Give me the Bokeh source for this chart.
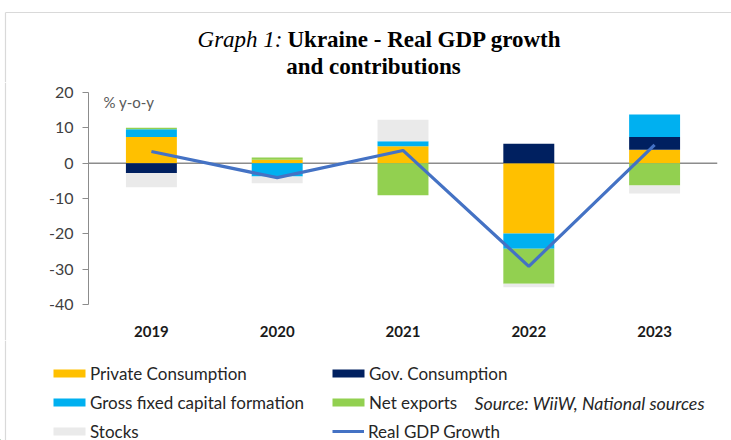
from bokeh.plotting import figure
from bokeh.layouts import column, row
from bokeh.models import (FactorRange, Range1d, FixedTicker, Span, Label, Legend,
                          LegendItem, ColumnDataSource)
from bokeh.embed import file_html
from bokeh.resources import INLINE

years = ["2019", "2020", "2021", "2022", "2023"]
private_cons = [7.4, 1.0, 4.8, -19.9, 3.8]
gov_cons = [-2.8, 0.0, 0.0, 5.5, 3.6]
gfcf = [2.2, -3.8, 1.4, -4.3, 6.4]
net_exports = [0.4, 0.6, -9.1, -9.9, -6.3]
stocks = [-4.0, -1.9, 6.1, -1.0, -2.3]
gdp_growth = [3.3, -4.1, 3.6, -29.2, 5.2]
y_ticks = [-40, -30, -20, -10, 0, 10, 20]
y_tick_labels = ["-40", "-30", "-20", "-10", "0", "10", "20"]

series_names = ["Private Consumption", "Gov. Consumption", "Gross fixed capital formation",
                "Net exports", "Stocks"]
series_vals = [private_cons, gov_cons, gfcf, net_exports, stocks]
series_colors = ["#FFC000", "#002060", "#00B0F0", "#92D050", "#EAEAEA"]
line_color = "#4472C4"
border_color = "#D9D9D9"

W = 731


def blank(width, height):
    f = figure(width=width, height=height, x_range=Range1d(0, width),
               y_range=Range1d(0, height), min_border=0, toolbar_location=None,
               output_backend="svg", x_axis_location=None, y_axis_location=None,
               frame_align=False)
    f.xgrid.grid_line_color = None
    f.ygrid.grid_line_color = None
    f.outline_line_color = None
    return f


# ---------------- title strip ----------------
ft = blank(W, 82)
ft.segment(x0=[5], y0=[70], x1=[W], y1=[70], line_color=border_color, line_width=1.2)
ft.segment(x0=[5], y0=[70], x1=[5], y1=[0], line_color=border_color, line_width=1.2)
ft.add_layout(Label(x=282, y=43.5, text="Graph 1:", text_font="Liberation Serif",
                    text_font_style="italic", text_font_size="23px", text_align="right",
                    text_baseline="middle", text_color="#000000"))
ft.add_layout(Label(x=287, y=43.5, text="Ukraine - Real GDP growth",
                    text_font="Liberation Serif", text_font_style="bold",
                    text_font_size="23px", text_align="left", text_baseline="middle",
                    text_color="#000000"))
ft.add_layout(Label(x=373, y=16, text="and contributions",
                    text_font="Liberation Serif", text_font_style="bold",
                    text_font_size="23px", text_align="center", text_baseline="middle",
                    text_color="#000000"))

# ---------------- left border strip next to chart ----------------
fs = blank(8, 258)
fs.segment(x0=[5], y0=[0], x1=[5], y1=[258], line_color=border_color, line_width=1.2)

# ---------------- main chart ----------------
p = figure(x_range=FactorRange(*years), y_range=Range1d(-40, 20),
           width=W - 8, height=258, output_backend="svg", toolbar_location=None,
           min_border_left=80, min_border_right=14, min_border_top=10,
           min_border_bottom=36, frame_align=False)
p.outline_line_color = None
p.xgrid.grid_line_color = None
p.ygrid.grid_line_color = None

p.add_layout(Span(location=0, dimension="width", line_color="#8C8C8C", line_width=1.5,
                  level="underlay"))

pos = [0.0] * len(years)
neg = [0.0] * len(years)
for name, vals, col in zip(series_names, series_vals, series_colors):
    bottoms, tops = [], []
    for i, v in enumerate(vals):
        if v >= 0:
            bottoms.append(pos[i]); pos[i] += v; tops.append(pos[i])
        else:
            bottoms.append(neg[i]); neg[i] += v; tops.append(neg[i])
    src = ColumnDataSource(dict(x=years, top=tops, bottom=bottoms))
    p.vbar(x="x", top="top", bottom="bottom", width=0.405, source=src,
           fill_color=col, line_color=None)

p.line(years, gdp_growth, line_color=line_color, line_width=3.2)

yax = p.yaxis[0]
yax.ticker = FixedTicker(ticks=y_ticks)
yax.major_label_overrides = {t: s for t, s in zip(y_ticks, y_tick_labels)}
yax.axis_line_color = "#8C8C8C"
yax.major_tick_line_color = "#8C8C8C"
yax.major_tick_in = 0
yax.major_tick_out = 6
yax.minor_tick_line_color = None
yax.major_label_standoff = 9
yax.major_label_text_font = "Lato"
yax.major_label_text_font_size = "16px"
yax.major_label_text_color = "#404040"

xax = p.xaxis[0]
xax.axis_line_color = None
xax.major_tick_line_color = None
xax.minor_tick_line_color = None
xax.major_label_standoff = 15
xax.major_label_text_font = "Lato"
xax.major_label_text_font_style = "bold"
xax.major_label_text_font_size = "15px"
xax.major_label_text_color = "#1a1a1a"

p.add_layout(Label(x=0.119, y=17.2, text="% y-o-y", text_font="Lato",
                   text_font_size="15px", text_align="left", text_baseline="middle",
                   text_color="#595959"))

# ---------------- legend strip ----------------
fl = blank(W, 100)
fl.segment(x0=[5], y0=[100], x1=[5], y1=[0], line_color=border_color, line_width=1.2)

# legend swatch renderers (kept outside the visible range; they only feed the legend)
leg_r = {}
for name, col in zip(series_names, series_colors):
    leg_r[name] = fl.vbar(x=[-1000], top=[1], bottom=[0], width=1, fill_color=col,
                          line_color=None)
leg_line = fl.line(x=[-1000, -999], y=[0, 1], line_color=line_color, line_width=3)

common = dict(orientation="vertical", label_height=21, spacing=8, padding=0, margin=0,
              border_line_color=None, background_fill_alpha=0, label_text_font="Lato",
              label_text_font_size="17px", label_text_color="#262626")

leg1 = Legend(items=[LegendItem(label=n, renderers=[leg_r[n]]) for n in
                     ["Private Consumption", "Gross fixed capital formation", "Stocks"]],
              location=(49, -1.5), glyph_width=40, glyph_height=10, label_standoff=1,
              **common)
leg2 = Legend(items=[LegendItem(label=n, renderers=[leg_r[n]]) for n in
                     ["Gov. Consumption", "Net exports"]],
              location=(328, 27.5), glyph_width=40, glyph_height=10, label_standoff=1,
              **common)
leg3 = Legend(items=[LegendItem(label="Real GDP Growth", renderers=[leg_line])],
              location=(332, -1.5), glyph_width=32, glyph_height=10, label_standoff=4,
              **common)
for lg in (leg1, leg2, leg3):
    fl.add_layout(lg)

fl.add_layout(Label(x=474, y=38, text="Source: WiiW, National sources",
                    text_font="Lato", text_font_style="italic", text_font_size="17.8px",
                    text_align="left", text_baseline="middle", text_color="#262626"))

layout = column(ft, row(fs, p, spacing=0), fl, spacing=0)
open("out.html", "w").write(file_html(layout, INLINE))
